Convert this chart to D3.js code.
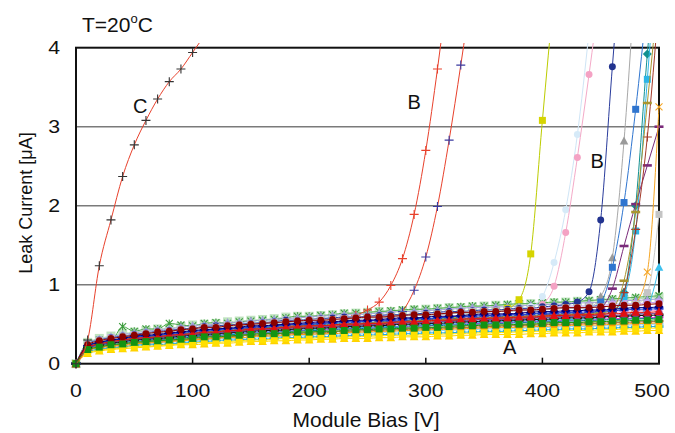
<!DOCTYPE html>
<html>
<head>
<meta charset="utf-8">
<script src="https://cdn.jsdelivr.net/npm/d3@7"></script>
<style>
  body { margin: 0; background: #fff; }
  svg { display: block; font-family: "Liberation Sans", Arial, sans-serif; }
</style>
</head>
<body>
<div id="chart"></div>
<script>
// Module bias steps [V]
const bias = [0,10,20,30,40,50,60,70,80,90,100,110,120,130,140,150,160,170,180,190,200,
  210,220,230,240,250,260,270,280,290,300,310,320,330,340,350,360,370,380,390,400,
  410,420,430,440,450,460,470,480,490,500];

const xTicks = [0, 100, 200, 300, 400, 500];
const yTicks = [0, 1, 2, 3, 4];

// group A: modules that stay flat up to 500 V  (leak current, uA)
const leakA = [
  [0,.27,.32,.35,.38,.40,.42,.44,.45,.47,.49,.50,.51,.53,.54,.55,.56,.57,.59,.60,.60,.61,.62,.63,.64,.65,.66,.66,.67,.68,.69,.70,.71,.71,.72,.73,.74,.74,.75,.76,.76,.77,.78,.79,.79,.80,.81,.81,.82,.83,.84],
  [0,.26,.30,.29,.47,.41,.44,.44,.51,.49,.48,.51,.52,.51,.53,.54,.55,.56,.58,.60,.60,.61,.62,.64,.64,.65,.66,.67,.68,.69,.69,.70,.71,.72,.73,.73,.74,.75,.76,.76,.77,.78,.78,.79,.80,.81,.82,.83,.84,.85,.86],
  [0,.24,.29,.32,.34,.36,.38,.40,.41,.43,.44,.46,.46,.48,.49,.50,.51,.52,.53,.54,.55,.55,.56,.57,.58,.59,.59,.60,.61,.62,.62,.63,.64,.65,.65,.66,.66,.67,.68,.68,.69,.70,.71,.71,.71,.72,.73,.74,.74,.75,.76],
  [0,.21,.25,.28,.30,.32,.33,.34,.36,.37,.38,.40,.40,.42,.42,.44,.44,.45,.46,.47,.48,.48,.49,.50,.50,.51,.51,.52,.53,.53,.54,.55,.55,.56,.57,.57,.58,.58,.59,.59,.60,.61,.61,.62,.62,.63,.63,.64,.65,.65,.66],
  [0,.23,.27,.30,.32,.35,.36,.37,.39,.40,.42,.43,.44,.45,.46,.48,.48,.49,.50,.51,.52,.53,.53,.54,.55,.55,.56,.57,.58,.58,.59,.60,.60,.61,.62,.63,.63,.63,.64,.65,.66,.66,.67,.67,.68,.68,.69,.70,.71,.71,.72],
  [0,.18,.21,.24,.25,.27,.28,.29,.30,.31,.32,.34,.34,.35,.36,.37,.38,.38,.39,.40,.40,.41,.41,.42,.43,.43,.44,.44,.45,.45,.46,.46,.47,.48,.48,.49,.49,.49,.50,.50,.51,.52,.52,.52,.53,.53,.54,.54,.55,.55,.56],
  [0,.14,.17,.19,.20,.22,.22,.23,.24,.25,.26,.27,.27,.28,.29,.30,.30,.31,.32,.32,.32,.33,.33,.34,.34,.35,.35,.36,.36,.36,.37,.37,.38,.38,.39,.39,.39,.40,.40,.41,.41,.41,.42,.42,.42,.43,.43,.44,.44,.45,.45],
  [0,.13,.16,.18,.19,.20,.21,.22,.23,.24,.24,.25,.26,.26,.27,.28,.28,.29,.29,.30,.30,.31,.31,.32,.32,.32,.33,.33,.34,.34,.34,.35,.35,.36,.36,.37,.37,.37,.37,.38,.38,.39,.39,.39,.40,.40,.40,.41,.41,.42,.42],
  [0,.26,.31,.34,.37,.39,.41,.43,.44,.46,.48,.49,.50,.52,.52,.54,.55,.56,.57,.58,.59,.60,.61,.62,.62,.63,.64,.65,.66,.66,.67,.68,.69,.70,.71,.71,.72,.72,.73,.74,.75,.75,.76,.77,.77,.78,.79,.80,.80,.81,.82],
  [0,.20,.24,.27,.29,.31,.32,.33,.35,.36,.37,.38,.39,.40,.41,.42,.43,.44,.45,.45,.46,.47,.47,.48,.49,.49,.50,.51,.51,.52,.52,.53,.54,.54,.55,.56,.56,.56,.57,.58,.58,.59,.60,.60,.60,.61,.61,.62,.63,.63,.64],
  [0,.15,.18,.20,.21,.23,.24,.24,.25,.26,.27,.28,.29,.30,.30,.31,.31,.32,.33,.33,.34,.34,.35,.35,.36,.36,.37,.37,.38,.38,.39,.39,.39,.40,.40,.41,.41,.41,.42,.42,.43,.43,.44,.44,.44,.45,.45,.46,.46,.47,.47],
  [0,.16,.19,.21,.22,.24,.25,.26,.27,.28,.29,.30,.31,.32,.32,.33,.34,.34,.35,.36,.36,.37,.37,.38,.38,.39,.39,.40,.40,.41,.41,.42,.42,.43,.43,.44,.44,.44,.45,.45,.46,.46,.47,.47,.47,.48,.48,.49,.49,.50,.50],
  [0,.20,.24,.26,.28,.30,.31,.32,.33,.35,.36,.37,.38,.39,.40,.41,.42,.42,.43,.44,.45,.45,.46,.47,.47,.48,.48,.49,.50,.50,.51,.51,.52,.53,.53,.54,.54,.55,.55,.56,.56,.57,.58,.58,.58,.59,.60,.60,.61,.61,.62],
  [0,.19,.22,.25,.27,.28,.30,.31,.32,.33,.34,.35,.36,.37,.38,.39,.40,.40,.41,.42,.42,.43,.44,.44,.45,.45,.46,.47,.47,.48,.48,.49,.50,.50,.51,.51,.52,.52,.53,.53,.54,.54,.55,.55,.55,.56,.57,.57,.58,.58,.59],
  [0,.22,.27,.29,.32,.34,.35,.36,.38,.39,.41,.42,.43,.44,.45,.46,.47,.48,.49,.50,.50,.51,.52,.53,.53,.54,.55,.55,.56,.57,.57,.58,.59,.60,.60,.61,.61,.62,.62,.63,.64,.64,.65,.65,.66,.67,.67,.68,.69,.69,.70],
  [0,.17,.20,.22,.23,.25,.26,.27,.28,.29,.30,.31,.32,.33,.33,.34,.35,.35,.36,.37,.37,.38,.38,.39,.40,.40,.41,.41,.42,.42,.43,.43,.44,.44,.45,.45,.46,.46,.46,.47,.47,.48,.48,.49,.49,.49,.50,.50,.51,.51,.52],
  [0,.19,.22,.24,.26,.28,.29,.30,.31,.32,.34,.35,.35,.37,.37,.38,.39,.39,.41,.41,.42,.42,.43,.44,.44,.45,.45,.46,.46,.47,.48,.48,.49,.49,.50,.50,.51,.51,.52,.52,.53,.53,.54,.54,.55,.55,.56,.56,.57,.57,.58],
  [0,.22,.26,.29,.31,.33,.34,.35,.37,.38,.39,.41,.41,.43,.44,.45,.46,.46,.48,.48,.49,.50,.50,.51,.52,.52,.53,.54,.54,.55,.56,.56,.57,.58,.58,.59,.60,.60,.61,.61,.62,.63,.63,.64,.64,.65,.65,.66,.67,.67,.68],
  [0,.17,.21,.23,.24,.26,.27,.28,.29,.30,.31,.32,.33,.34,.35,.36,.36,.37,.38,.38,.39,.39,.40,.41,.41,.42,.42,.43,.43,.44,.44,.45,.45,.46,.46,.47,.47,.48,.48,.49,.49,.50,.50,.50,.51,.51,.52,.52,.53,.53,.54],
  [0,.25,.30,.33,.35,.37,.39,.41,.42,.44,.45,.47,.48,.49,.50,.51,.52,.53,.55,.55,.56,.57,.58,.59,.59,.60,.61,.62,.62,.63,.64,.65,.66,.66,.67,.68,.68,.69,.69,.70,.71,.72,.73,.73,.73,.74,.75,.76,.76,.77,.78],
  [0,.21,.25,.27,.29,.31,.32,.34,.35,.36,.37,.38,.39,.40,.41,.42,.43,.43,.45,.45,.46,.47,.47,.48,.49,.49,.50,.50,.51,.52,.52,.53,.54,.54,.55,.56,.56,.56,.57,.58,.58,.59,.59,.60,.60,.61,.61,.62,.63,.63,.64]
];

// group B: modules that break down (values above 4 run off the top)
const leakB = [
  [0,.22,.26,.29,.31,.33,.34,.35,.37,.38,.39,.41,.41,.43,.44,.45,.46,.46,.48,.49,.50,.51,.52,.56,.61,.68,.78,.99,1.33,1.89,2.70,3.73,4.90],
  [0,.20,.24,.26,.28,.30,.31,.32,.33,.35,.36,.37,.38,.39,.40,.41,.42,.42,.43,.44,.45,.45,.46,.47,.47,.48,.49,.52,.66,.93,1.35,1.99,2.83,3.78,4.80],
  [0,.21,.25,.28,.30,.32,.33,.34,.35,.37,.38,.39,.40,.41,.42,.43,.44,.45,.46,.47,.48,.48,.49,.50,.51,.51,.52,.53,.54,.55,.56,.57,.58,.59,.64,.65,.67,.70,.81,1.39,3.08,4.70],
  [0,.25,.30,.33,.35,.37,.39,.41,.42,.44,.45,.47,.48,.49,.50,.51,.52,.53,.55,.55,.56,.57,.58,.59,.59,.60,.61,.62,.62,.63,.64,.65,.66,.66,.67,.68,.68,.69,.70,.72,.85,1.28,1.95,2.90,4.20],
  [0,.23,.27,.30,.32,.34,.36,.37,.39,.40,.41,.43,.44,.45,.46,.47,.48,.49,.50,.51,.52,.53,.53,.54,.55,.55,.56,.57,.58,.58,.59,.60,.60,.61,.62,.63,.63,.63,.64,.66,.75,.98,1.66,2.61,3.66,4.80],
  [0,.25,.30,.33,.35,.37,.39,.41,.42,.44,.45,.47,.48,.49,.50,.51,.52,.53,.55,.55,.56,.57,.58,.59,.59,.60,.61,.62,.62,.63,.64,.65,.66,.66,.67,.68,.68,.69,.70,.70,.72,.73,.75,.78,.91,1.82,3.76,5.60],
  [0,.24,.28,.31,.34,.36,.37,.39,.40,.42,.43,.45,.46,.47,.48,.49,.50,.51,.52,.53,.54,.55,.55,.56,.57,.58,.58,.59,.60,.61,.61,.62,.63,.64,.64,.65,.66,.66,.67,.67,.68,.69,.70,.70,.71,.85,1.34,2.82,5.00],
  [0,.23,.27,.29,.32,.34,.35,.36,.38,.39,.41,.42,.43,.44,.45,.46,.47,.48,.49,.50,.50,.51,.52,.53,.53,.54,.55,.55,.56,.57,.57,.58,.59,.60,.60,.61,.61,.62,.62,.63,.64,.64,.65,.66,.70,.78,1.22,2.04,3.22,4.60],
  [0,.22,.26,.28,.30,.32,.34,.35,.36,.38,.39,.40,.41,.42,.43,.44,.45,.46,.47,.48,.49,.49,.50,.51,.51,.52,.53,.53,.54,.55,.55,.56,.57,.57,.58,.59,.59,.60,.60,.61,.62,.62,.63,.63,.64,.65,.67,.90,2.00,3.92,5.50],
  [0,.19,.23,.25,.27,.29,.30,.31,.32,.34,.35,.36,.37,.38,.38,.40,.40,.41,.42,.43,.43,.44,.45,.45,.46,.46,.47,.47,.48,.49,.49,.50,.50,.51,.52,.52,.53,.53,.54,.54,.55,.55,.56,.56,.57,.58,.62,.85,1.68,3.60,5.50],
  [0,.21,.25,.28,.30,.32,.33,.34,.35,.37,.38,.39,.40,.41,.42,.43,.44,.45,.46,.47,.48,.48,.49,.50,.51,.51,.52,.53,.54,.54,.55,.56,.56,.57,.58,.58,.59,.59,.60,.60,.61,.62,.62,.63,.64,.70,.95,1.49,2.02,2.51,3.00],
  [0,.20,.24,.27,.29,.31,.32,.33,.35,.36,.37,.38,.39,.40,.41,.42,.43,.44,.45,.46,.46,.47,.48,.48,.49,.50,.50,.51,.52,.52,.53,.54,.54,.55,.56,.56,.57,.57,.58,.58,.59,.60,.60,.61,.61,.62,.65,.90,1.70,2.87,4.60],
  [0,.21,.25,.28,.30,.32,.33,.34,.36,.37,.38,.40,.40,.42,.42,.44,.44,.45,.46,.47,.48,.48,.49,.50,.50,.51,.52,.52,.53,.54,.54,.55,.56,.56,.57,.58,.58,.59,.59,.60,.60,.61,.62,.62,.63,.64,.70,1.05,1.92,3.30,4.80],
  [0,.18,.21,.24,.25,.27,.28,.29,.30,.31,.32,.34,.34,.35,.36,.37,.38,.38,.39,.40,.40,.41,.41,.42,.43,.43,.44,.44,.45,.45,.46,.46,.47,.48,.48,.49,.49,.49,.50,.50,.51,.52,.52,.52,.53,.53,.54,.56,.75,1.16,3.25],
  [0,.24,.29,.32,.34,.36,.38,.40,.41,.43,.44,.46,.46,.48,.49,.50,.51,.52,.53,.54,.55,.56,.56,.57,.58,.59,.59,.60,.61,.62,.62,.63,.64,.65,.66,.66,.67,.67,.68,.69,.69,.70,.71,.71,.72,.72,.73,.74,.75,.90,1.89],
  [0,.20,.24,.26,.28,.30,.31,.32,.33,.35,.36,.37,.38,.39,.40,.41,.42,.42,.43,.44,.45,.45,.46,.47,.47,.48,.48,.49,.50,.50,.51,.51,.52,.53,.53,.54,.54,.55,.55,.56,.56,.57,.58,.58,.58,.59,.60,.60,.61,.72,1.22]
];

// group C: early breakdown
const leakC = [0, .30, 1.24, 1.82, 2.37, 2.77, 3.08, 3.35, 3.57, 3.73, 3.94, 4.15];

// curve labels
const labels = [
  { text: 'C', v: 55, i: 3.27 },
  { text: 'B', v: 290, i: 3.32 },
  { text: 'B', v: 447, i: 2.57 },
  { text: 'A', v: 372, i: 0.21 }
];

// ---- styles ----
const styleA = [
  { line: '#b4dcb4', mark: '#bfe3bf', shape: 'bigsquare' },
  { line: '#48a848', mark: '#3c9c3c', shape: 'star' },
  { line: '#8b0000', mark: '#8b0000', shape: 'circle' },
  { line: '#e01010', mark: '#e01010', shape: 'triangle' },
  { line: '#000080', mark: '#000080', shape: 'diamond' },
  { line: '#139313', mark: '#139313', shape: 'square' },
  { line: '#ffe000', mark: '#ffe000', shape: 'square' },
  { line: '#ffd200', mark: '#ffd200', shape: 'triangle' },
  { line: '#a0a0d8', mark: '#a0a0d8', shape: 'triangle' },
  { line: '#833f96', mark: '#833f96', shape: 'circle' },
  { line: '#1aa6e0', mark: '#1aa6e0', shape: 'dash' },
  { line: '#8fd3f3', mark: '#8fd3f3', shape: 'dash' },
  { line: '#111111', mark: '#111111', shape: 'dash' },
  { line: '#e020d8', mark: '#e020d8', shape: 'dash' },
  { line: '#2040d0', mark: '#2040d0', shape: 'dash' },
  { line: '#ff9a00', mark: '#ff9a00', shape: 'circle' },
  { line: '#008080', mark: '#008080', shape: 'x' },
  { line: '#ff99cc', mark: '#ff99cc', shape: 'square' },
  { line: '#996633', mark: '#996633', shape: 'dash' },
  { line: '#c8a0f0', mark: '#c8a0f0', shape: 'square' },
  { line: '#8c8c8c', mark: '#8c8c8c', shape: 'circle' }
];
// light curves first, strong ones end up on top
const orderBack = [0, 1, 8, 19, 11, 17, 20, 13, 16, 18];
const orderFront = [10, 14, 15, 12, 9, 7, 6, 4, 3, 2, 5];

const styleB = [
  { line: '#e8412c', mark: '#e8412c', shape: 'plus' },
  { line: '#e8412c', mark: '#3a3aa0', shape: 'plus' },
  { line: '#bccc00', mark: '#d6d400', shape: 'square' },
  { line: '#cfe5f6', mark: '#d6eaf8', shape: 'circle' },
  { line: '#f4aac8', mark: '#f4a2c4', shape: 'circle' },
  { line: '#2a3c9c', mark: '#22338f', shape: 'circle' },
  { line: '#a8a8a8', mark: '#9a9a9a', shape: 'triangle' },
  { line: '#2f75cf', mark: '#2f75cf', shape: 'square' },
  { line: '#119090', mark: '#119090', shape: 'diamond' },
  { line: '#2cb5e6', mark: '#2cb5e6', shape: 'square' },
  { line: '#7a2a7a', mark: '#7a2a7a', shape: 'dash' },
  { line: '#a33a2a', mark: '#a33a2a', shape: 'plus' },
  { line: '#a89530', mark: '#a89530', shape: 'dash' },
  { line: '#f5a524', mark: '#f5a524', shape: 'x' },
  { line: '#c8c8c8', mark: '#c4c4c4', shape: 'square' },
  { line: '#3cc0ee', mark: '#3cc0ee', shape: 'triangle' }
];

const styleC = { line: '#e8412c', mark: '#333333', shape: 'plus' };

// ---- drawing ----
const width = 675, height = 433;
const svg = d3.select('#chart').append('svg')
  .attr('width', width)
  .attr('height', height);

const x = d3.scaleLinear().domain([0, 500]).range([76, 659]);
const y = d3.scaleLinear().domain([0, 4]).range([363.7, 47.7]);

svg.append('defs').append('clipPath').attr('id', 'plotclip')
  .append('rect')
  .attr('x', 68).attr('y', 43)
  .attr('width', 598).attr('height', 330);

// gridlines
svg.append('g')
  .selectAll('line')
  .data(yTicks.filter(t => t > 0 && t < 4))
  .enter()
  .append('line')
  .attr('x1', x(0)).attr('x2', x(500))
  .attr('y1', d => y(d)).attr('y2', d => y(d))
  .attr('stroke', '#7a7a7a')
  .attr('stroke-width', 1.5);

// frame
svg.append('rect')
  .attr('x', x(0)).attr('y', y(4))
  .attr('width', x(500) - x(0)).attr('height', y(0) - y(4))
  .attr('fill', 'none')
  .attr('stroke', '#111')
  .attr('stroke-width', 2);

// x ticks (inside)
svg.append('g')
  .selectAll('line')
  .data(xTicks.filter(t => t > 0 && t < 500))
  .enter()
  .append('line')
  .attr('x1', d => x(d)).attr('x2', d => x(d))
  .attr('y1', y(0)).attr('y2', y(0) - 6)
  .attr('stroke', '#111')
  .attr('stroke-width', 1.5);

// tick labels are a little wide in the original, stretch them
// (last one pulled in so it stays inside the picture)
svg.append('g')
  .selectAll('text')
  .data(xTicks)
  .enter()
  .append('text')
  .attr('transform', d => `translate(${Math.min(x(d), 652)},396.5) scale(1.15,1)`)
  .attr('text-anchor', 'middle')
  .attr('font-size', '18.5px')
  .attr('fill', '#111')
  .text(d => d);

svg.append('g')
  .selectAll('text')
  .data(yTicks)
  .enter()
  .append('text')
  .attr('transform', d => `translate(60,${y(d)}) scale(1.15,1)`)
  .attr('dy', '0.36em')
  .attr('text-anchor', 'end')
  .attr('font-size', '18.5px')
  .attr('fill', '#111')
  .text(d => d);

// axis titles
svg.append('text')
  .attr('x', 366).attr('y', 427)
  .attr('text-anchor', 'middle')
  .attr('font-size', '21px')
  .attr('fill', '#111')
  .text('Module Bias [V]');

svg.append('text')
  .attr('transform', 'translate(32,203) rotate(-90)')
  .attr('text-anchor', 'middle')
  .attr('font-size', '18px')
  .attr('fill', '#111')
  .text('Leak Current [μA]');

// temperature note
const note = svg.append('text')
  .attr('x', 82).attr('y', 32)
  .attr('font-size', '21px')
  .attr('fill', '#111');
note.append('tspan').text('T=20');
note.append('tspan').attr('font-size', '13px').attr('dy', -9).text('o');
note.append('tspan').attr('dy', 9).text('C');

// markers
function markPath(shape) {
  switch (shape) {
    case 'square': return 'M-3.5,-3.5H3.5V3.5H-3.5Z';
    case 'bigsquare': return 'M-4.5,-4.5H4.5V4.5H-4.5Z';
    case 'circle': return d3.symbol(d3.symbolCircle, 38)();
    case 'triangle': return 'M0,-4.5L4.3,3.5L-4.3,3.5Z';
    case 'diamond': return 'M0,-4.5L4.5,0L0,4.5L-4.5,0Z';
    case 'plus': return 'M-4.5,0H4.5M0,-4.5V4.5';
    case 'x': return 'M-3.5,-3.5L3.5,3.5M-3.5,3.5L3.5,-3.5';
    case 'star': return 'M-3.5,-3.5L3.5,3.5M-3.5,3.5L3.5,-3.5M0,-4V4';
    case 'dash': return 'M-4.5,0H4.5';
  }
}
const stroked = ['plus', 'x', 'star', 'dash'];

const plot = svg.append('g').attr('clip-path', 'url(#plotclip)');
const line = d3.line()
  .x((d, i) => x(bias[i]))
  .y(d => y(d))
  .curve(d3.curveMonotoneX);

function drawSeries(values, st) {
  const g = plot.append('g');
  g.append('path')
    .datum(values)
    .attr('d', line)
    .attr('fill', 'none')
    .attr('stroke', st.line)
    .attr('stroke-width', 1);
  const isStroke = stroked.includes(st.shape);
  g.selectAll('path.m')
    .data(values.map((v, i) => ({ v: bias[i], i: v })).filter(d => d.i <= 4.1))
    .enter()
    .append('path')
    .attr('class', 'm')
    .attr('transform', d => `translate(${x(d.v)},${y(d.i)})`)
    .attr('d', markPath(st.shape))
    .attr('fill', isStroke ? 'none' : st.mark)
    .attr('stroke', isStroke ? st.mark : 'none')
    .attr('stroke-width', st.shape === 'dash' ? 2.6 : 1.1);
}

orderBack.forEach(k => drawSeries(leakA[k], styleA[k]));
leakB.forEach((vals, k) => drawSeries(vals, styleB[k]));
orderFront.forEach(k => drawSeries(leakA[k], styleA[k]));
drawSeries(leakC, styleC);

// curve labels
svg.append('g')
  .selectAll('text')
  .data(labels)
  .enter()
  .append('text')
  .attr('x', d => x(d.v))
  .attr('y', d => y(d.i))
  .attr('dy', '0.36em')
  .attr('text-anchor', 'middle')
  .attr('font-size', '20px')
  .attr('fill', '#111')
  .text(d => d.text);
</script>
</body>
</html>
